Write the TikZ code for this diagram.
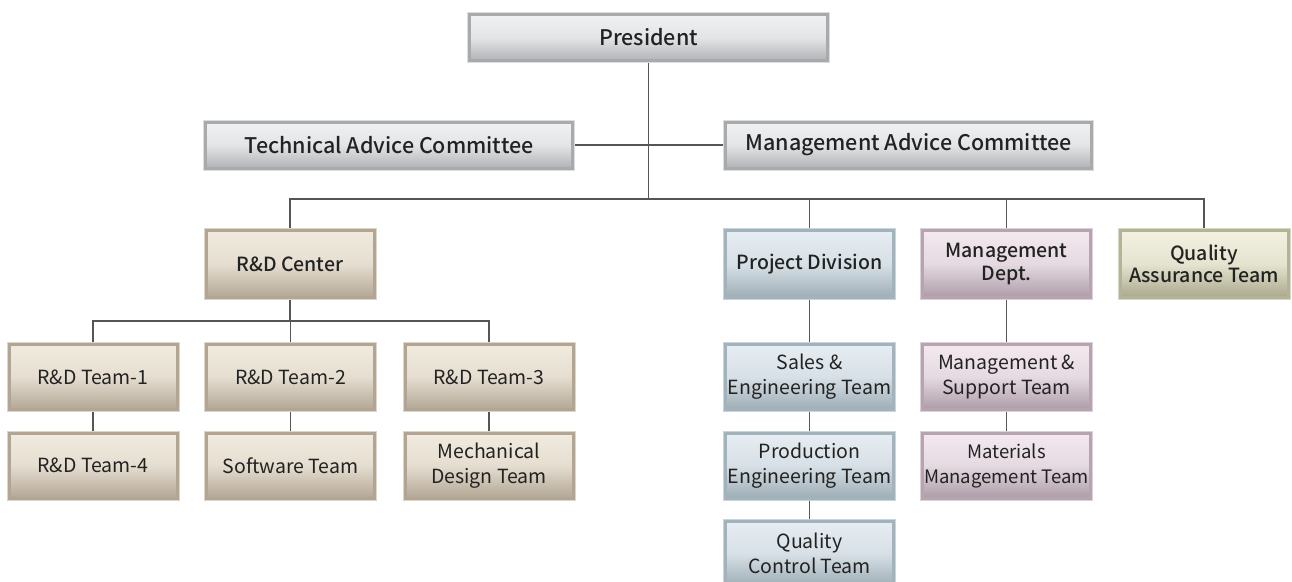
\documentclass[tikz,border=0pt]{standalone}
\usepackage{fontspec}
\setmainfont{Noto Sans CJK KR}
\newfontfamily\medfont{Noto Sans CJK KR}[UprightFont=* Medium]
\definecolor{txt}{HTML}{222222}
\definecolor{lin}{HTML}{555555}
\definecolor{gL}{HTML}{F0F1F3}\definecolor{gD}{HTML}{B2B3B6}\definecolor{gF}{HTML}{A9AAAC}\definecolor{gR}{HTML}{DCDDE0}
\definecolor{bL}{HTML}{F1EBDF}\definecolor{bD}{HTML}{B3A795}\definecolor{bF}{HTML}{B2A593}\definecolor{bR}{HTML}{DDD5C8}
\definecolor{uL}{HTML}{E6EDF3}\definecolor{uD}{HTML}{9EADB5}\definecolor{uF}{HTML}{A3B3BC}\definecolor{uR}{HTML}{C8D5DC}
\definecolor{pL}{HTML}{F3E9EF}\definecolor{pD}{HTML}{AD9CA8}\definecolor{pF}{HTML}{B6A5B0}\definecolor{pR}{HTML}{DDD0D8}
\definecolor{oL}{HTML}{F3F2E1}\definecolor{oD}{HTML}{AAA98D}\definecolor{oF}{HTML}{B4B398}\definecolor{oR}{HTML}{D9D8C2}
\tikzset{
  boxbase/.style={rectangle, inner sep=0pt, outer sep=2.5pt, align=center, text=txt,
    line width=3pt, font=\fontsize{19.5}{25}\selectfont},
  scheme/.style n args={4}{preaction={draw=#4, line width=5pt}, draw=#3,
    top color=#1, bottom color=#2, middle color=#1!80!#2},
  graybox/.style={boxbase, scheme={gL}{gD}{gF}{gR}},
  beigebox/.style={boxbase, scheme={bL}{bD}{bF}{bR}},
  bluebox/.style={boxbase, scheme={uL}{uD}{uF}{uR}},
  pinkbox/.style={boxbase, scheme={pL}{pD}{pF}{pR}},
  olivebox/.style={boxbase, scheme={oL}{oD}{oF}{oR}},
  top/.style={minimum width=#1-5pt, minimum height=46pt, font=\fontsize{21.5}{25}\selectfont\medfont},
  mid/.style={minimum width=168pt, minimum height=67pt, font=\fontsize{19.5}{22.5}\selectfont\medfont},
  low/.style={minimum width=168pt, minimum height=65pt},
  conn/.style={draw=lin, line width=1.1pt},
}
\begin{document}
\begin{tikzpicture}[x=1pt,y=-1pt]
\useasboundingbox (0,0) rectangle (1292,581);
\begin{scope}
\clip (0,0) rectangle (1292,581);
\coordinate (busA) at (0,199);
\coordinate (busB) at (0,321);
% level 0/1
\node[graybox, top=363pt] (pres) at (648.5,37.5) {President};
\node[graybox, top=372pt] (tac) at (389,145) {Technical Advice Committee};
\node[graybox, top=371pt] (mac) at (908.5,145) {Management Advice Committee};
% level 2
\node[beigebox, mid] (rdc) at (290,264) {R\&D Center};
\node[bluebox, mid] (pd) at (809.5,264) {Project Division};
\node[pinkbox, mid] (md) at (1006.5,264) {Management\\Dept.};
\node[olivebox, mid] (qa) at (1204,264) {Quality\\Assurance Team};
% R&D teams
\node[beigebox, low] (t1) at (93,377) {R\&D Team-1};
\node[beigebox, low] (t2) at (290.5,377) {R\&D Team-2};
\node[beigebox, low] (t3) at (489,377) {R\&D Team-3};
\node[beigebox, low] (t4) at (93,465.5) {R\&D Team-4};
\node[beigebox, low] (sw) at (290.5,465.5) {Software Team};
\node[beigebox, low] (mech) at (489,465.5) {Mechanical\\Design Team};
% project division
\node[bluebox, low] (se) at (809.5,377) {Sales \&\\Engineering Team};
\node[bluebox, low] (pe) at (809.5,465.5) {Production\\Engineering Team};
\node[bluebox, low] (qc) at (809.5,553.5) {Quality\\Control Team};
% management
\node[pinkbox, low] (ms) at (1006.5,377) {Management \&\\Support Team};
\node[pinkbox, low, font=\fontsize{18.5}{25}\selectfont] (mm) at (1006.5,465.5) {Materials\\Management Team};
% connectors
\draw[conn] (pres.south) -- (pres.south |- busA);
\draw[conn] (tac.east) -- (mac.west);
\draw[conn] (rdc.north) -- (rdc.north |- busA) -- (qa.north |- busA) -- (qa.north);
\draw[conn] (pd.north |- busA) -- (pd.north);
\draw[conn] (md.north |- busA) -- (md.north);
\draw[conn] (rdc.south) -- (rdc.south |- busB);
\draw[conn] (t1.north) -- (t1.north |- busB) -- (t3.north |- busB) -- (t3.north);
\draw[conn] (t2.north |- busB) -- (t2.north);
\draw[conn] (t1) -- (t4);
\draw[conn] (t2) -- (sw);
\draw[conn] (t3) -- (mech);
\draw[conn] (pd) -- (se);
\draw[conn] (se) -- (pe);
\draw[conn] (pe) -- (qc);
\draw[conn] (md) -- (ms);
\draw[conn] (ms) -- (mm);
\end{scope}
\end{tikzpicture}
\end{document}
